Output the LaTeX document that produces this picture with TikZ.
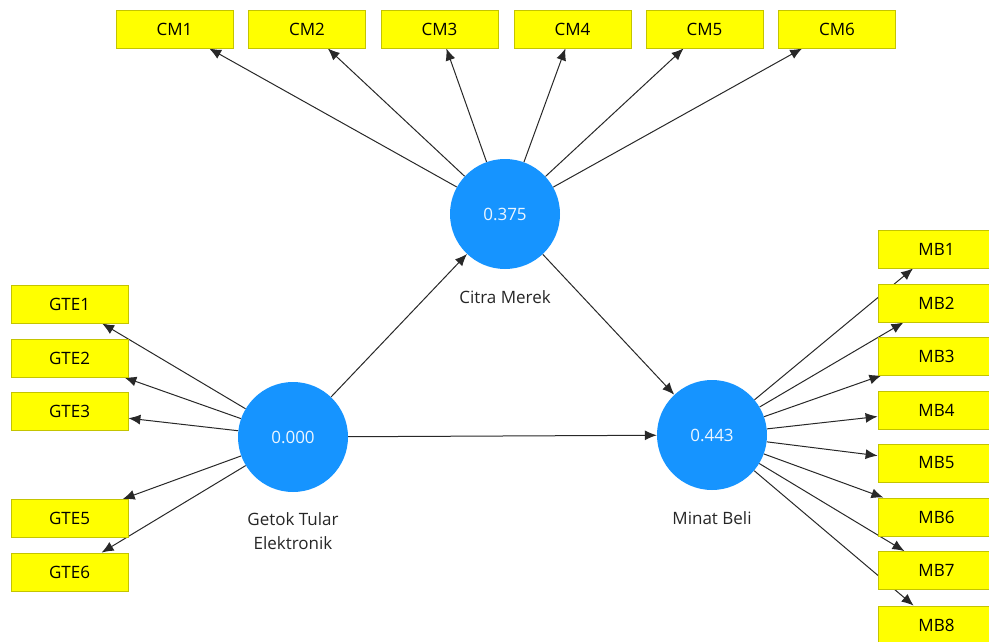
\documentclass[tikz,border=0pt]{standalone}
\usepackage{fontspec}
\setmainfont{Open Sans}
\usetikzlibrary{arrows.meta}
\pgfdeclarelayer{bg}
\pgfsetlayers{bg,main}
\definecolor{latent}{RGB}{22,148,255}
\definecolor{indfill}{RGB}{255,255,0}
\definecolor{indline}{RGB}{196,196,0}
\definecolor{edge}{RGB}{40,40,40}
\tikzset{
  ind/.style={draw=indline, fill=indfill, line width=0.8pt, minimum width=117pt, minimum height=38pt, inner sep=0pt, font=\fontsize{17}{20}\selectfont, text=black},
  lat/.style={circle, fill=latent, minimum size=110pt, inner sep=0pt, font=\fontsize{17}{20}\selectfont, text=white!92!latent},
  lab/.style={font=\fontsize{17}{24}\selectfont, text=black!85, align=center},
  arr/.style={draw=edge, line width=1pt, -{Latex[length=12pt,width=10pt]}}
}
\begin{document}
\begin{tikzpicture}[x=1pt,y=-1pt]
\useasboundingbox (0,0) rectangle (989,642);
% latent variables
\node[lat] (CMv) at (505,214) {0.375};
\node[lat] (GTEv) at (293,437) {0.000};
\node[lat] (MBv) at (712,435) {0.443};
\node[lab] (CMl) at (505,297) {Citra Merek};
\node[lab] (GTEl) at (293,531) {Getok Tular\\Elektronik};
\node[lab] (MBl) at (712,518) {Minat Beli};
% indicators
\node[ind] (CM1) at (174.5,29) {CM1};
\node[ind] (CM2) at (307,29) {CM2};
\node[ind] (CM3) at (439.5,29) {CM3};
\node[ind] (CM4) at (572.5,29) {CM4};
\node[ind] (CM5) at (704.5,29) {CM5};
\node[ind] (CM6) at (837,29) {CM6};
\node[ind] (GTE1) at (69.5,304) {GTE1};
\node[ind] (GTE2) at (69.5,358) {GTE2};
\node[ind] (GTE3) at (69.5,411.5) {GTE3};
\node[ind] (GTE5) at (69.5,518.5) {GTE5};
\node[ind] (GTE6) at (69.5,572) {GTE6};
\node[ind] (MB1) at (936.5,249) {MB1};
\node[ind] (MB2) at (936.5,303) {MB2};
\node[ind] (MB3) at (936.5,356) {MB3};
\node[ind] (MB4) at (936.5,410) {MB4};
\node[ind] (MB5) at (936.5,463) {MB5};
\node[ind] (MB6) at (936.5,517) {MB6};
\node[ind] (MB7) at (936.5,570.5) {MB7};
\node[ind] (MB8) at (936.5,625) {MB8};
\begin{pgfonlayer}{bg}
  \foreach \i in {1,...,6} \draw[arr] (CMv) -- (CM\i);
  \foreach \i in {1,2,3,5,6} \draw[arr] (GTEv) -- (GTE\i);
  \foreach \i in {1,...,8} \draw[arr] (MBv) -- (MB\i);
  \draw[arr] (GTEv) -- (CMv);
  \draw[arr] (CMv) -- (MBv);
  \draw[arr] (GTEv) -- (MBv);
\end{pgfonlayer}
\end{tikzpicture}
\end{document}
